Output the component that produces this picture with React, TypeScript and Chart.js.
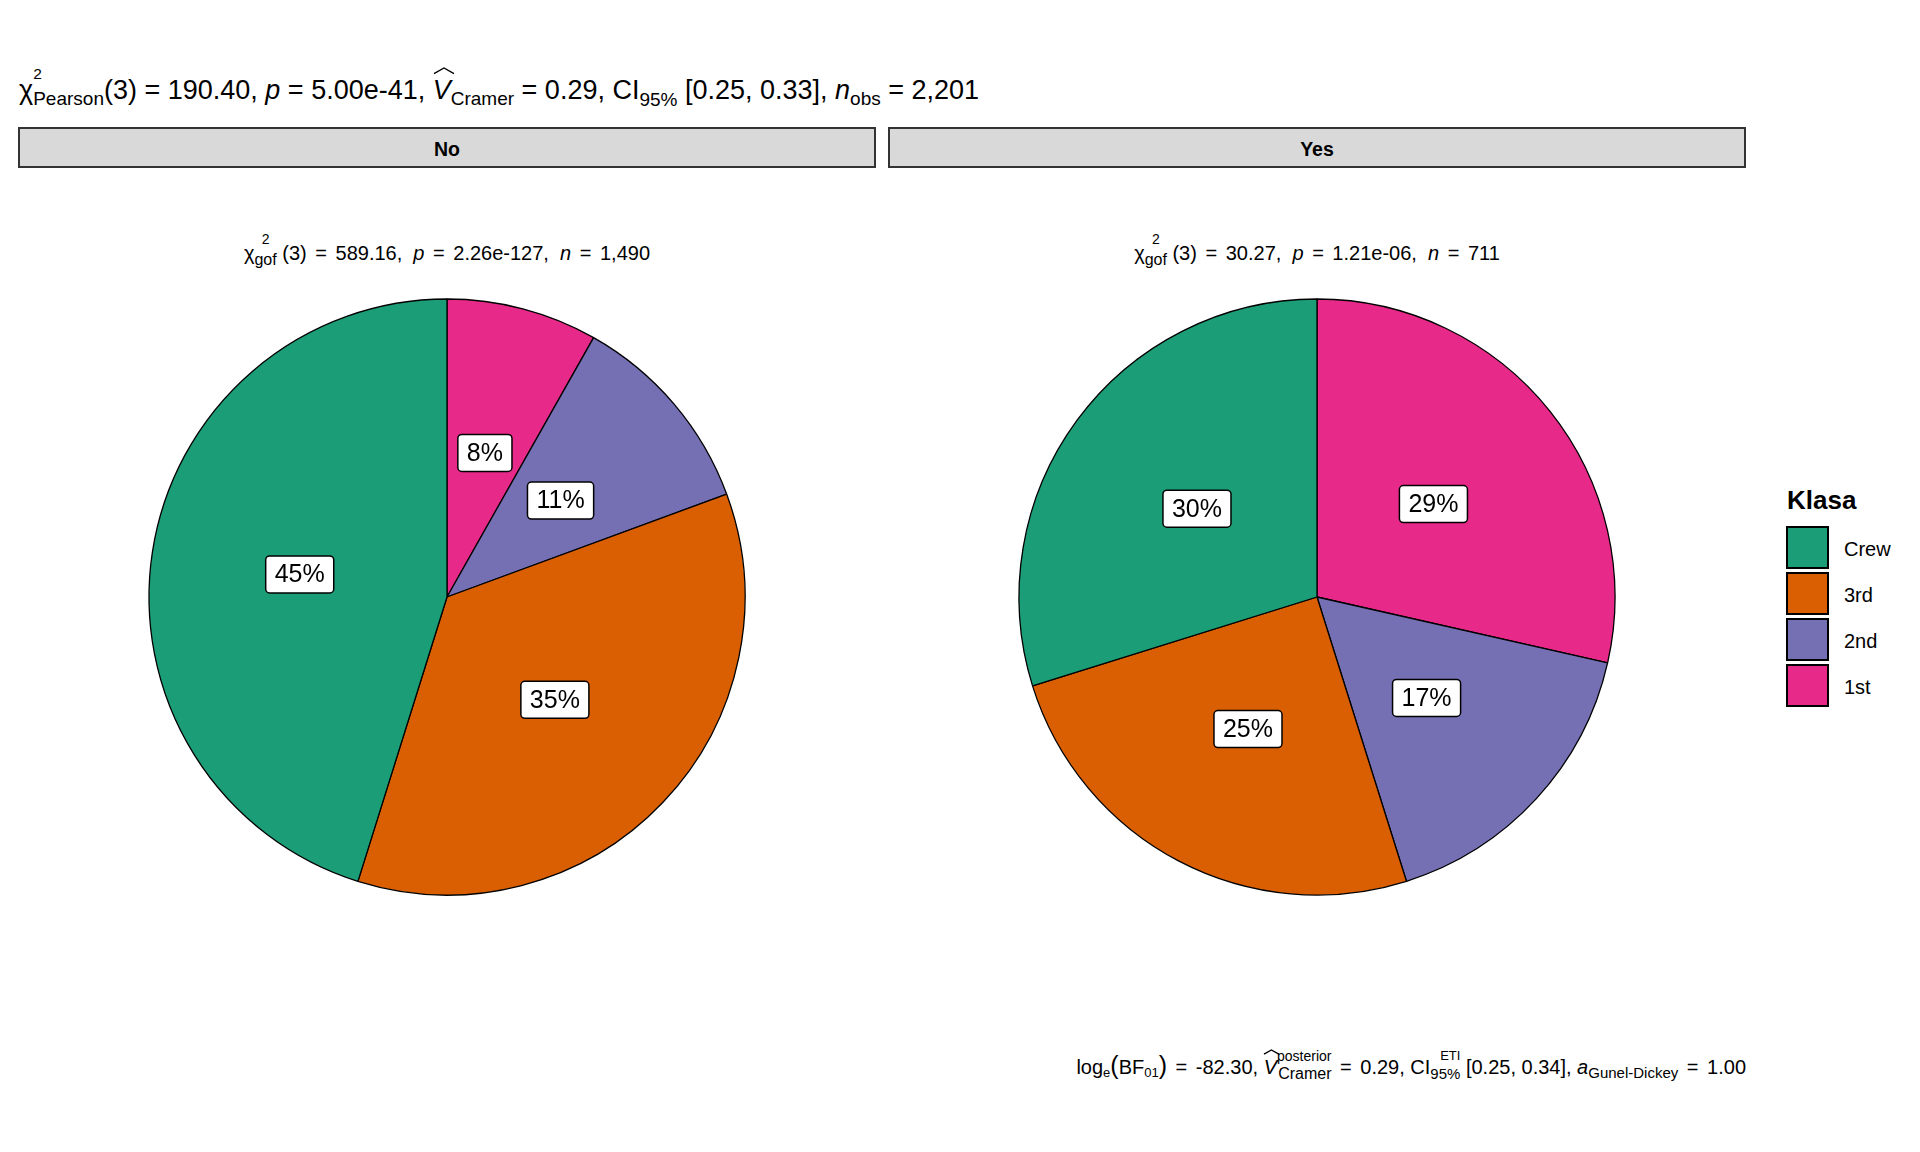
import React, { useEffect, useRef } from "react";
import { Chart, registerables } from "chart.js";

Chart.register(...registerables);

// Titanic: class split, facetted by survival
const klasa = ["1st", "2nd", "3rd", "Crew"];
const klasaColors = ["#E7298A", "#7570B3", "#D95F02", "#1B9E77"];
const countsNo = [122, 167, 528, 673];
const countsYes = [203, 118, 178, 212];
const facetLabels = ["No", "Yes"];
const gofStats = [
  { chi: "589.16", p: "2.26e-127", n: "1,490" },
  { chi: "30.27", p: "1.21e-06", n: "711" },
];

const FONT = '"Liberation Sans", Arial, sans-serif';
const PANEL_LEFT = [18, 888];
const PANEL_W = 858;
const PIE_CY = 597;
const PIE_R = 298;

// white boxed percent labels at mid radius of each slice
const pctLabels = {
  id: "pctLabels",
  afterDatasetsDraw(chart: any) {
    const { ctx } = chart;
    const values = chart.data.datasets[0].data as number[];
    const total = values.reduce((a, b) => a + b, 0);
    chart.getDatasetMeta(0).data.forEach((arc: any, i: number) => {
      const { x, y } = arc.getCenterPoint();
      const text = Math.round((values[i] / total) * 100) + "%";
      ctx.save();
      ctx.font = `25px ${FONT}`;
      const w = ctx.measureText(text).width + 18;
      const h = 37;
      ctx.beginPath();
      ctx.roundRect(x - w / 2, y - h / 2, w, h, 4);
      ctx.fillStyle = "#ffffff";
      ctx.fill();
      ctx.lineWidth = 1.5;
      ctx.strokeStyle = "#000000";
      ctx.stroke();
      ctx.fillStyle = "#000000";
      ctx.textAlign = "center";
      ctx.textBaseline = "middle";
      ctx.fillText(text, x, y + 1);
      ctx.restore();
    });
  },
};

const PieChart = ({ values, cx }: { values: number[]; cx: number }) => {
  const canvasRef = useRef<HTMLCanvasElement>(null);
  const size = 2 * PIE_R + 20;

  useEffect(() => {
    if (!canvasRef.current) return;
    const chart = new Chart(canvasRef.current, {
      type: "pie",
      data: {
        labels: klasa,
        datasets: [
          {
            data: values,
            backgroundColor: klasaColors,
            borderColor: "#000000",
            borderWidth: 1.3,
          },
        ],
      },
      options: {
        responsive: false,
        animation: false,
        events: [],
        radius: PIE_R,
        plugins: {
          legend: { display: false },
          tooltip: { enabled: false },
        },
      } as any,
      plugins: [pctLabels],
    });
    return () => {
      chart.destroy();
    };
  }, [values]);

  return (
    <canvas
      ref={canvasRef}
      width={size}
      height={size}
      style={{ position: "absolute", left: cx - size / 2, top: PIE_CY - size / 2, width: size, height: size }}
    />
  );
};

// sub / superscript pair, positioned against the parent's baseline
const Scr = ({ sup, sub, supSize = 14, subSize = 16, rise = 14, drop = 5 }: any) => {
  const supOff = 0.8465 * (subSize - supSize) - rise;
  return (
    <span style={{ display: "inline-block", fontSize: subSize, lineHeight: 1, verticalAlign: "baseline" }}>
      {sup ? (
        <span style={{ display: "block", height: 0, fontSize: supSize, lineHeight: 1, position: "relative", top: supOff, whiteSpace: "nowrap" }}>
          {sup}
        </span>
      ) : null}
      <span style={{ position: "relative", top: drop, whiteSpace: "nowrap" }}>{sub || "\u200b"}</span>
    </span>
  );
};

const Hat = ({ size }: { size: number }) => {
  const w = 0.74 * size;
  const h = 0.21 * size;
  return (
    <span style={{ position: "relative", display: "inline-block", lineHeight: 1 }}>
      <i>V</i>
      <svg
        width={w}
        height={h + 2}
        style={{ position: "absolute", left: 0.04 * size, top: -0.331 * size - 1, overflow: "visible" }}
      >
        <polyline points={`0,${h + 1} ${w / 2},1 ${w},${h + 1}`} fill="none" stroke="#000" strokeWidth={1.4} />
      </svg>
    </span>
  );
};

// "=" with plotmath-like breathing room
const Eq = ({ m }: { m: number }) => <span style={{ margin: `0 ${m}px` }}>=</span>;

const Line = ({ left, right, width, center, baseline, size, bold, children }: any) => (
  <div
    style={{
      position: "absolute",
      left,
      right,
      width,
      top: baseline - 0.8465 * size,
      fontSize: size,
      lineHeight: 1,
      fontWeight: bold ? "bold" : "normal",
      whiteSpace: "pre",
      textAlign: center ? "center" : right !== undefined ? "right" : "left",
    }}
  >
    {children}
  </div>
);

const big = (s: string) => <span style={{ fontSize: 25, lineHeight: 0 }}>{s}</span>;

export default function App() {
  const legendItems = klasa.map((k, i) => ({ k, c: klasaColors[i] })).reverse();

  return (
    <div
      style={{
        position: "absolute",
        left: 0,
        top: 0,
        width: 1920,
        height: 1152,
        background: "#ffffff",
        fontFamily: FONT,
        color: "#000",
        overflow: "hidden",
      }}
    >
      <Line left={19} baseline={99.5} size={27}>
        {"\u03c7"}
        <Scr sup="2" sub="Pearson" supSize={15.5} subSize={19} rise={19.5} drop={6.5} />
        {"(3) = 190.40, "}
        <i>p</i>
        {" = 5.00e-41, "}
        <Hat size={27} />
        <Scr sub="Cramer" subSize={19} drop={6.5} />
        {" = 0.29, CI"}
        <Scr sub="95%" subSize={19} drop={7} />
        {" [0.25, 0.33], "}
        <i>n</i>
        <Scr sub="obs" subSize={19} drop={6.5} />
        {" = 2,201"}
      </Line>

      {facetLabels.map((f, i) => (
        <div
          key={f}
          style={{
            position: "absolute",
            left: PANEL_LEFT[i],
            top: 127,
            width: PANEL_W,
            height: 41,
            boxSizing: "border-box",
            border: "2px solid #333333",
            background: "#D9D9D9",
          }}
        >
          <Line left={0} width={PANEL_W - 4} center baseline={156.7 - 129} size={19.5} bold>
            {f}
          </Line>
        </div>
      ))}

      {gofStats.map((g, i) => (
        <Line key={i} left={PANEL_LEFT[i]} width={PANEL_W} center baseline={259.5} size={20}>
          {"\u03c7"}
          <Scr sup="2" sub="gof" supSize={14} subSize={16} rise={16} drop={5.5} />
          {" (3) "}
          <Eq m={3} />
          {` ${g.chi},  `}
          <i>p</i>
          {" "}
          <Eq m={3} />
          {` ${g.p},  `}
          <i>n</i>
          {" "}
          <Eq m={3} />
          {` ${g.n}`}
        </Line>
      ))}

      <PieChart values={countsNo} cx={PANEL_LEFT[0] + PANEL_W / 2} />
      <PieChart values={countsYes} cx={PANEL_LEFT[1] + PANEL_W / 2} />

      <Line left={1787} baseline={509} size={26} bold>
        Klasa
      </Line>
      {legendItems.map((it, i) => (
        <React.Fragment key={it.k}>
          <div
            style={{
              position: "absolute",
              left: 1786,
              top: 526 + i * 46,
              width: 43,
              height: 43,
              boxSizing: "border-box",
              border: "2px solid #000",
              background: it.c,
            }}
          />
          <Line left={1844} baseline={526 + i * 46 + 21.5 + 8} size={20}>
            {it.k}
          </Line>
        </React.Fragment>
      ))}

      <Line right={1920 - 1746} baseline={1073.5} size={20}>
        {"log"}
        <Scr sub="e" subSize={13} drop={3} />
        {big("(")}
        {"BF"}
        <Scr sub="01" subSize={13} drop={3} />
        {big(")")}
        {" "}
        <Eq m={3} />
        {" -82.30, "}
        <Hat size={20} />
        <Scr sup="posterior" sub="Cramer" supSize={14} subSize={16} rise={13.5} drop={5} />
        {" "}
        <Eq m={3} />
        {" 0.29, CI"}
        <Scr sup="ETI" sub="95%" supSize={13} subSize={15} rise={13} drop={5} />
        {" [0.25, 0.34], "}
        <i>a</i>
        <Scr sub="Gunel-Dickey" subSize={15} drop={4} />
        {" "}
        <Eq m={3} />
        {" 1.00"}
      </Line>
    </div>
  );
}
